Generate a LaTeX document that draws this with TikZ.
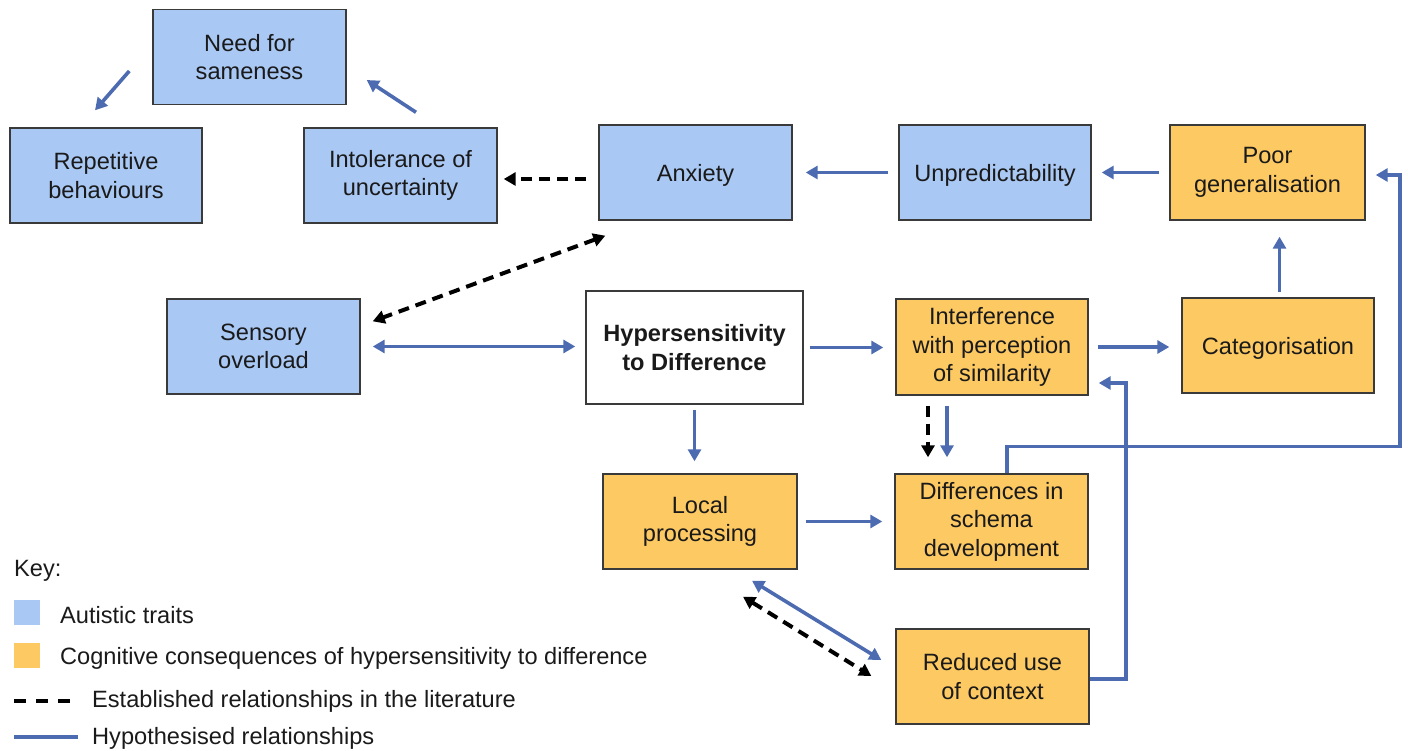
\documentclass[tikz,border=0pt]{standalone}
\usepackage{fontspec}
\setmainfont{Liberation Sans}
\usetikzlibrary{arrows.meta,calc}
\definecolor{traitfill}{HTML}{A9C8F4}
\definecolor{consfill}{HTML}{FCC963}
\definecolor{arrowblue}{HTML}{4D6BB0}
\definecolor{edgegray}{HTML}{3A3A3A}
\definecolor{txt}{HTML}{1A1A1A}
\begin{document}
\begin{tikzpicture}[x=1pt,y=-1pt,
  box/.style={draw=edgegray,line width=1.4pt,minimum width=193pt,minimum height=95pt,inner sep=0pt,align=center,text=txt,font=\fontsize{23.6}{28.5}\selectfont,execute at begin node={\rule{0pt}{22pt}}},
  traitbox/.style={box,fill=traitfill},
  consbox/.style={box,fill=consfill},
  hyp/.style={draw=arrowblue,line width=3.6pt,-{Triangle[length=12pt,width=13pt]}},
  hypboth/.style={draw=arrowblue,line width=3.6pt,{Triangle[length=12pt,width=13pt]}-{Triangle[length=12pt,width=13pt]}},
  est/.style={draw=black,line width=4pt,dash pattern=on 11pt off 7pt,-{Triangle[length=12pt,width=13pt]}},
  estboth/.style={draw=black,line width=4pt,dash pattern=on 11pt off 7pt,{Triangle[length=12pt,width=13pt]}-{Triangle[length=12pt,width=13pt]}},
  keytext/.style={anchor=west,inner sep=0pt,text=txt,font=\fontsize{23.6}{28}\selectfont}
]
\useasboundingbox (0,0) rectangle (1408,751);

% boxes
\node[traitbox] (need) at (249.5,57) {Need for\\sameness};
\node[traitbox,minimum width=192pt] (rep) at (106,175.5) {Repetitive\\behaviours};
\node[traitbox] (intol) at (400.5,175.5) {Intolerance of\\uncertainty};
\node[traitbox] (anx) at (695.5,172.5) {Anxiety};
\node[traitbox,minimum width=192pt] (unp) at (995,172.5) {Unpredictability};
\node[consbox,minimum width=195pt] (poor) at (1267.5,172.5) {Poor\\generalisation};
\node[traitbox] (sens) at (263.5,346.5) {Sensory\\overload};
\node[box,fill=white,minimum width=217pt,minimum height=113pt,font=\fontsize{23.6}{28.5}\selectfont\bfseries] (hyper) at (694.5,347.5) {Hypersensitivity\\to Difference};
\node[consbox,minimum width=192pt,minimum height=96pt] (interf) at (992,347) {Interference\\with perception\\of similarity};
\node[consbox,minimum width=192pt] (cat) at (1278,345.5) {Categorisation};
\node[consbox,minimum width=194pt] (local) at (700,521.5) {Local\\processing};
\node[consbox] (diff) at (991.5,521.5) {Differences in\\schema\\development};
\node[consbox] (red) at (992.5,676.5) {Reduced use\\of context};

% connectors
\draw[hyp] ($(need.west)+(-23,14)$) -- ($(rep.north)+(-11,-17)$);
\draw[hyp] ($(intol.north)+(15.5,-15)$) -- ($(need.east)+(20,23)$);
\draw[est] ([yshift=-6.5pt]anx.west) ++(-12,0) -- ($([yshift=-6.5pt]anx.west -| intol.east)+(6,0)$);
\draw[hyp,shorten <=10pt,shorten >=13pt] (unp.west) -- (anx.east);
\draw[hyp,shorten <=10pt,shorten >=10pt] (poor.west) -- (unp.east);
\draw[estboth] ($(anx.south west)+(7,15)$) -- ($(sens.north east)+(12,23)$);
\draw[hypboth,shorten <=12pt,shorten >=10pt] (sens.east) -- (sens.east -| hyper.west);
\draw[hyp,shorten <=6pt,shorten >=12pt] (hyper.east) -- (hyper.east -| interf.west);
\draw[hyp,shorten <=9pt,shorten >=12pt] (interf.east) -- (interf.east -| cat.west);
\draw[hyp,shorten <=5pt,shorten >=16pt] ([xshift=1.5pt]cat.north) -- ([xshift=1.5pt]cat.north |- poor.south);
\draw[hyp,shorten <=5pt,shorten >=12pt] (hyper.south) -- (hyper.south |- local.north);
\draw[est,shorten <=10pt,shorten >=16pt] ([xshift=-64pt]interf.south) -- ([xshift=-64pt]interf.south |- diff.north);
\draw[hyp,shorten <=10pt,shorten >=16pt] ([xshift=-45pt]interf.south) -- ([xshift=-45pt]interf.south |- diff.north);
\draw[hyp,shorten <=8pt,shorten >=12pt] (local.east) -- (local.east -| diff.west);
\draw[hyp] ([xshift=15.5pt]diff.north) -- ++(0,-27) -| ([xshift=34pt,yshift=-2.5pt]poor.east) -- ([xshift=10pt,yshift=-2.5pt]poor.east);
\draw[hyp] ([yshift=-2.5pt]red.east) -- ++(36,0) |- ([xshift=10pt,yshift=-36pt]interf.east);
\draw[hypboth] ($(local.south)+(52,11)$) -- ($(red.west)+(-14,-16.5)$);
\draw[estboth] ($(local.south)+(43,27)$) -- ($(red.west)+(-24,-0.5)$);

% key
\node[keytext] (keyt) at (14,571) {Key:};
\node[fill=traitfill,minimum width=26pt,minimum height=25pt,inner sep=0pt] (sqb) at (27,612.5) {};
\node[keytext] (ktrait) at (60,615) {Autistic traits};
\node[fill=consfill,minimum width=26pt,minimum height=25pt,inner sep=0pt] (sqo) at (27,655.5) {};
\node[keytext] (kcons) at (60,658) {Cognitive consequences of hypersensitivity to difference};
\node[keytext] (kest) at (92,701) {Established relationships in the literature};
\node[keytext] (khyp) at (92,738) {Hypothesised relationships};
\draw[black,line width=4pt,dash pattern=on 12pt off 10pt] ([xshift=-78pt,yshift=0pt]kest.west) -- ([xshift=-12pt,yshift=0pt]kest.west);
\draw[arrowblue,line width=3.6pt] ([xshift=-78pt,yshift=1pt]khyp.west) -- ([xshift=-14pt,yshift=1pt]khyp.west);
\end{tikzpicture}
\end{document}
